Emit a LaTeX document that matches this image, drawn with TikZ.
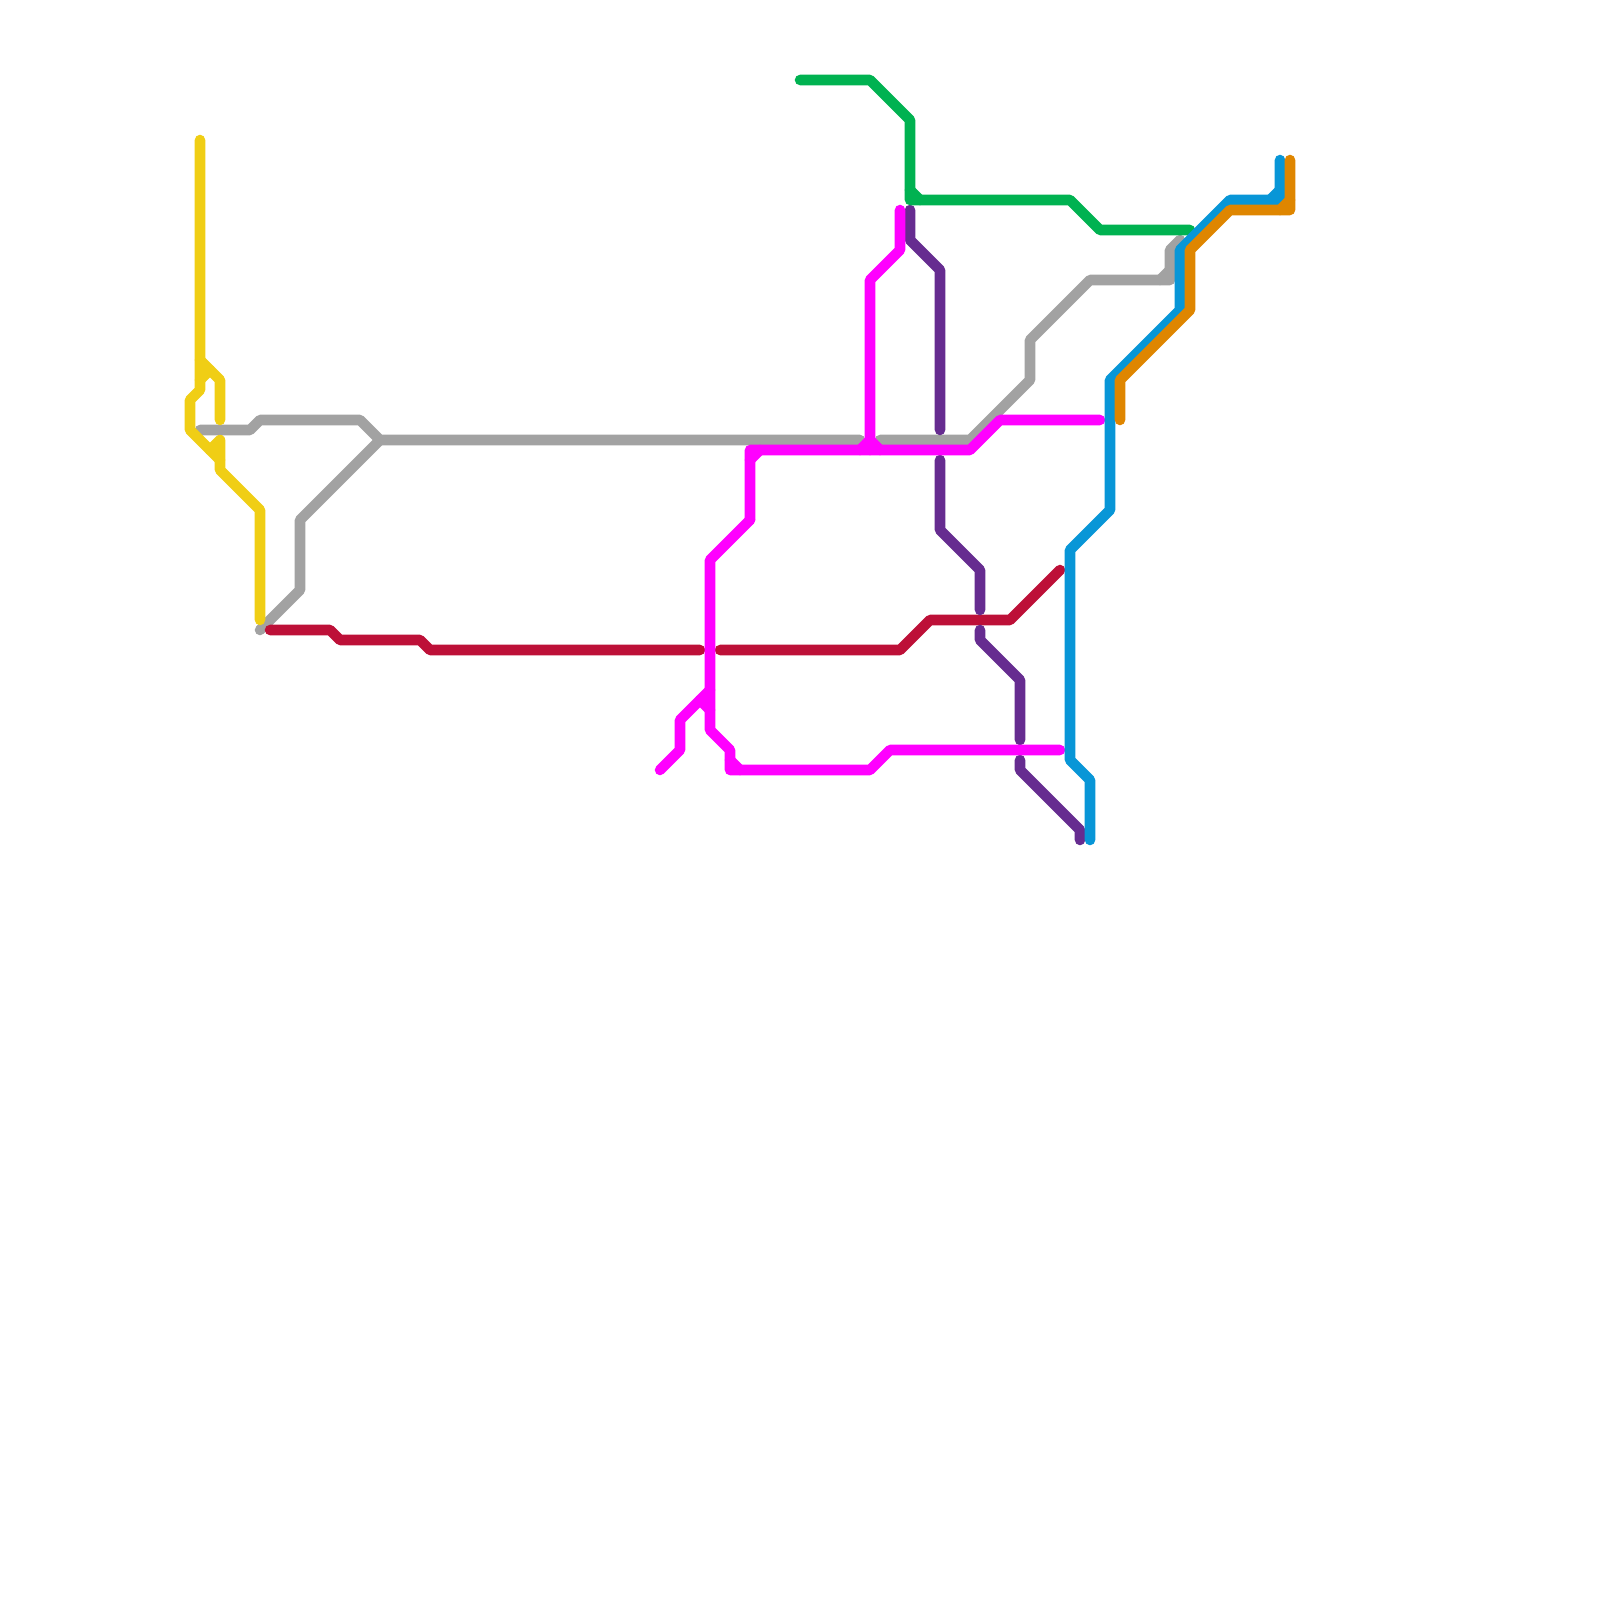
\documentclass[tikz,border=0pt]{standalone}
\usetikzlibrary{arrows.meta,positioning}
\definecolor{lineyellow}{HTML}{F0CE15}
\definecolor{linegray}{HTML}{A2A2A2}
\definecolor{linecrimson}{HTML}{BD1038}
\definecolor{linemagenta}{HTML}{FF00FF}
\definecolor{linegreen}{HTML}{00B251}
\definecolor{linepurple}{HTML}{662C90}
\definecolor{lineblue}{HTML}{0896D7}
\definecolor{lineorange}{HTML}{DF8600}
\tikzset{
  route/.style  = {line width=3pt, line cap=round, line join=round},
  yroute/.style = {route, draw=lineyellow},
  aroute/.style = {route, draw=linegray},
  croute/.style = {route, draw=linecrimson},
  mroute/.style = {route, draw=linemagenta},
  groute/.style = {route, draw=linegreen},
  proute/.style = {route, draw=linepurple},
  broute/.style = {route, draw=lineblue},
  oroute/.style = {route, draw=lineorange}
}
\begin{document}
\begin{tikzpicture}[x=1mm, y=-1mm]
  \useasboundingbox (0,0) rectangle (160,160);
  % ===================== gray line =====================
  \draw[aroute] (20,43) -- (25,43) -- (26,42) -- (36,42) -- (38,44) -- (86,44);
  \draw[aroute] (38,44) -- (30,52) -- (30,59) -- (26,63);
  \draw[aroute] (88,44) -- (97,44) -- (103,38) -- (103,34) -- (109,28) -- (117,28)
                -- (117,25) -- (118,24);
  \draw[aroute] (116,28) -- (117,27);

  % ===================== yellow line =====================
  \draw[yroute] (20,14) -- (20,39) -- (19,40) -- (19,43) -- (22,46);
  \draw[yroute] (20,36) -- (22,38) -- (22,42);
  \draw[yroute] (20,38) -- (21,37);
  \draw[yroute] (21,45) -- (22,44) -- (22,47) -- (26,51) -- (26,62);

  % ===================== crimson line =====================
  \draw[croute] (27,63) -- (33,63) -- (34,64) -- (42,64) -- (43,65) -- (70,65);
  \draw[croute] (72,65) -- (90,65) -- (93,62) -- (101,62) -- (106,57);

  % ===================== purple line =====================
  \draw[proute] (91,21) -- (91,24) -- (94,27) -- (94,43);
  \draw[proute] (94,46) -- (94,53) -- (98,57) -- (98,61);
  \draw[proute] (98,63) -- (98,64) -- (102,68) -- (102,74);
  \draw[proute] (102,76) -- (102,77) -- (108,83) -- (108,84);

  % ===================== magenta line =====================
  \draw[mroute] (90,21) -- (90,25) -- (87,28) -- (87,45);
  \draw[mroute] (86,45) -- (87,44) -- (88,45);
  \draw[mroute] (75,46) -- (76,45);
  \draw[mroute] (75,52) -- (75,45) -- (97,45) -- (100,42) -- (110,42);
  \draw[mroute] (75,52) -- (71,56) -- (71,73) -- (73,75) -- (73,77) -- (87,77)
                -- (89,75) -- (106,75);
  \draw[mroute] (73,76) -- (74,77);
  \draw[mroute] (71,69) -- (68,72) -- (68,75) -- (66,77);
  \draw[mroute] (70,70) -- (71,71);

  % ===================== green line =====================
  \draw[groute] (80,8) -- (87,8) -- (91,12) -- (91,20) -- (107,20) -- (110,23) -- (119,23);
  \draw[groute] (91,19) -- (92,20);

  % ===================== blue line =====================
  \draw[broute] (128,16) -- (128,20) -- (123,20) -- (118,25) -- (118,31) -- (111,38)
                -- (111,51) -- (107,55) -- (107,76) -- (109,78) -- (109,84);
  \draw[broute] (127,20) -- (128,19);

  % ===================== orange line =====================
  \draw[oroute] (129,16) -- (129,21) -- (123,21) -- (119,25) -- (119,31) -- (112,38) -- (112,42);
  \draw[oroute] (128,21) -- (129,20);
\end{tikzpicture}
\end{document}
